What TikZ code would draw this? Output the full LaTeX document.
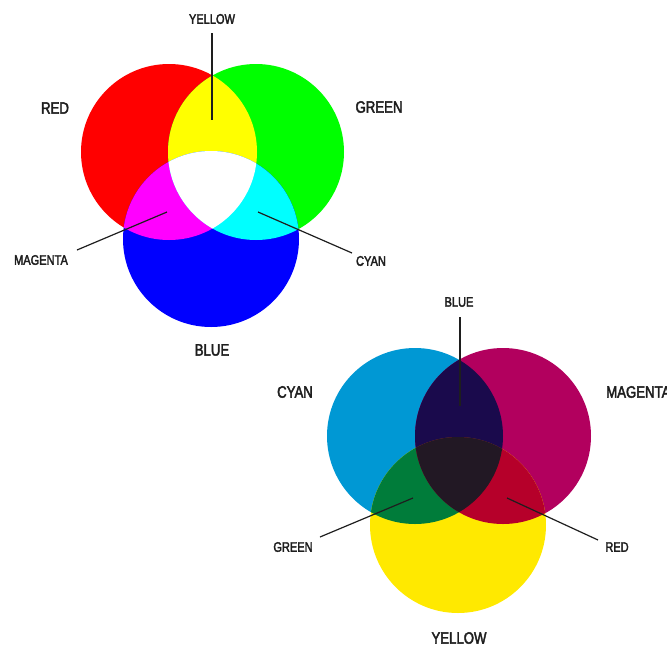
\documentclass[tikz,border=0pt]{standalone}
\usepackage{fontspec}
\setmainfont{Liberation Sans}[FakeStretch=0.8,FakeBold=2.5]
\definecolor{pR}{RGB}{255,0,0}
\definecolor{pG}{RGB}{0,255,0}
\definecolor{pB}{RGB}{0,0,255}
\definecolor{pY}{RGB}{255,255,0}
\definecolor{pM}{RGB}{255,0,255}
\definecolor{pC}{RGB}{0,255,255}
\definecolor{cC}{RGB}{0,152,212}
\definecolor{cM}{RGB}{178,0,94}
\definecolor{cY}{RGB}{255,233,0}
\definecolor{cB}{RGB}{26,10,76}
\definecolor{cG}{RGB}{0,124,58}
\definecolor{cR}{RGB}{182,0,42}
\definecolor{cK}{RGB}{34,24,36}
\definecolor{txt}{RGB}{30,30,30}
\begin{document}
\begin{tikzpicture}[x=1pt,y=-1pt,
  lbl/.style={font=\fontsize{16.5}{18}\selectfont, text=txt, inner sep=0},
  slbl/.style={font=\fontsize{13.8}{15}\selectfont, text=txt, inner sep=0},
  lead/.style={line width=1.2pt, draw=txt}]
\useasboundingbox (0,0) rectangle (667,646);
\def\rr{88}
% ---------- RGB (additive) ----------
\coordinate (R) at (169,152);
\coordinate (G) at (256,152);
\coordinate (B) at (211,239);
\fill[pR] (R) circle[radius=\rr];
\fill[pG] (G) circle[radius=\rr];
\fill[pB] (B) circle[radius=\rr];
\begin{scope}\clip (R) circle[radius=\rr]; \fill[pY] (G) circle[radius=\rr];\end{scope}
\begin{scope}\clip (R) circle[radius=\rr]; \fill[pM] (B) circle[radius=\rr];\end{scope}
\begin{scope}\clip (G) circle[radius=\rr]; \fill[pC] (B) circle[radius=\rr];\end{scope}
\begin{scope}\clip (R) circle[radius=\rr]; \clip (G) circle[radius=\rr]; \fill[white] (B) circle[radius=\rr];\end{scope}
\node[slbl] (tyellow) at (212,19) {YELLOW};
\node[lbl] (tred) at (55,108) {RED};
\node[lbl] (tgreen) at (379,107) {GREEN};
\node[slbl] (tmagenta) at (41,260) {MAGENTA};
\node[slbl] (tcyan) at (371,261) {CYAN};
\node[lbl] (tblue) at (212,350) {BLUE};
\coordinate (yA) at (212,33); \coordinate (yB) at (212,120);
\coordinate (mA) at (77,250); \coordinate (mB) at (167,212);
\coordinate (cA) at (352,253); \coordinate (cB) at (258,212);
\draw[lead] (yA) -- (yB);
\draw[lead] (mA) -- (mB);
\draw[lead] (cA) -- (cB);
% ---------- CMY (subtractive) ----------
\coordinate (C) at (415,436);
\coordinate (M) at (503,436);
\coordinate (Y) at (458,525);
\fill[cC] (C) circle[radius=\rr];
\fill[cM] (M) circle[radius=\rr];
\fill[cY] (Y) circle[radius=\rr];
\begin{scope}\clip (C) circle[radius=\rr]; \fill[cB] (M) circle[radius=\rr];\end{scope}
\begin{scope}\clip (C) circle[radius=\rr]; \fill[cG] (Y) circle[radius=\rr];\end{scope}
\begin{scope}\clip (M) circle[radius=\rr]; \fill[cR] (Y) circle[radius=\rr];\end{scope}
\begin{scope}\clip (C) circle[radius=\rr]; \clip (M) circle[radius=\rr]; \fill[cK] (Y) circle[radius=\rr];\end{scope}
\node[slbl] (bblue) at (459,302) {BLUE};
\node[lbl] (bcyan) at (295,392) {CYAN};
\node[lbl, anchor=west] (bmagenta) at (606,392) {MAGENTA};
\node[slbl] (bgreen) at (293,547) {GREEN};
\node[slbl] (bred) at (617,547) {RED};
\node[lbl] (byellow) at (459,638) {YELLOW};
\coordinate (bA) at (460,317); \coordinate (bB) at (460,406);
\coordinate (gA) at (320,537); \coordinate (gB) at (413,498);
\coordinate (rA) at (598,540); \coordinate (rB) at (507,498);
\draw[lead] (bA) -- (bB);
\draw[lead] (gA) -- (gB);
\draw[lead] (rA) -- (rB);
\end{tikzpicture}
\end{document}
